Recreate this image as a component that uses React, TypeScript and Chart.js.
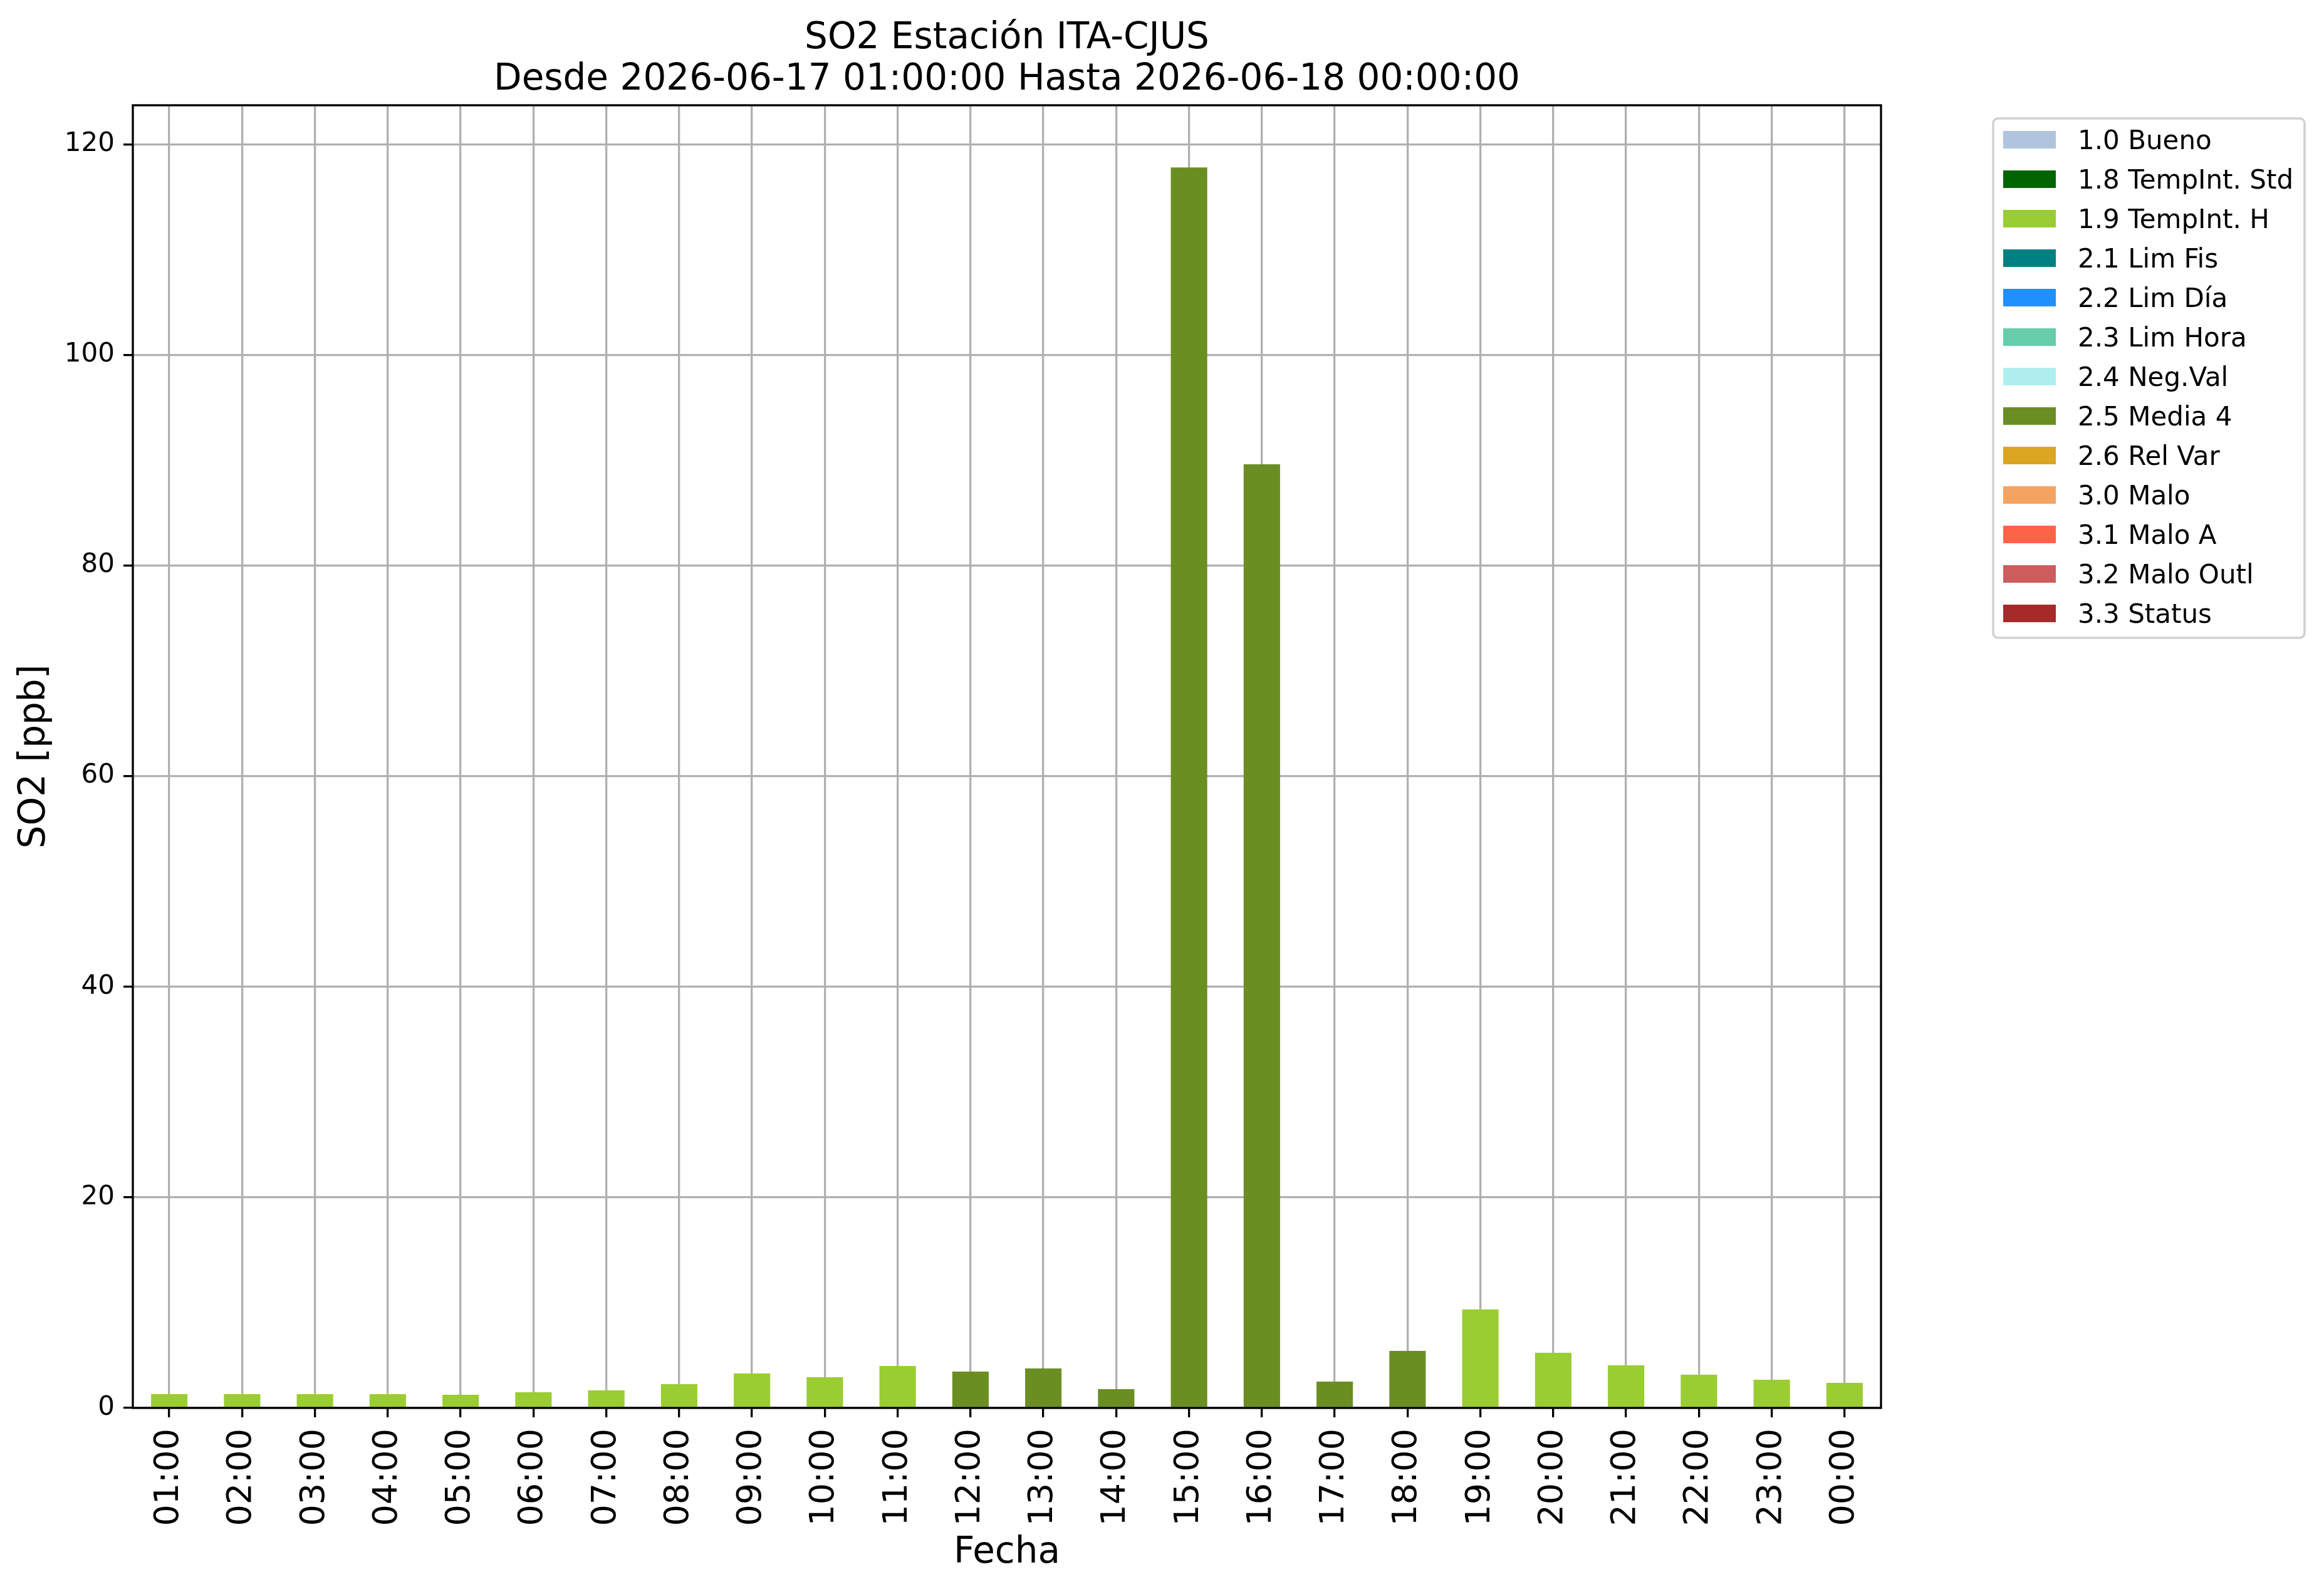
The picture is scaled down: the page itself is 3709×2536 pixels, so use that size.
import React, { useEffect, useRef } from 'react';
import { Chart, registerables } from 'chart.js';

Chart.register(...registerables);

// ---------- data ----------
const hours = [
  '01:00', '02:00', '03:00', '04:00', '05:00', '06:00', '07:00', '08:00',
  '09:00', '10:00', '11:00', '12:00', '13:00', '14:00', '15:00', '16:00',
  '17:00', '18:00', '19:00', '20:00', '21:00', '22:00', '23:00', '00:00',
];

const so2Values = [
  1.31, 1.31, 1.31, 1.31, 1.25, 1.49, 1.67, 2.26,
  3.27, 2.92, 3.99, 3.45, 3.75, 1.79, 117.8, 89.6,
  2.5, 5.42, 9.35, 5.24, 4.05, 3.15, 2.68, 2.38,
];

const hourFlags = [
  '1.9', '1.9', '1.9', '1.9', '1.9', '1.9', '1.9', '1.9',
  '1.9', '1.9', '1.9', '2.5', '2.5', '2.5', '2.5', '2.5',
  '2.5', '2.5', '1.9', '1.9', '1.9', '1.9', '1.9', '1.9',
];

const flagCodes = ['1.0', '1.8', '1.9', '2.1', '2.2', '2.3', '2.4', '2.5', '2.6', '3.0', '3.1', '3.2', '3.3'];
const flagNames = [
  'Bueno', 'TempInt. Std', 'TempInt. H', 'Lim Fis', 'Lim Día', 'Lim Hora',
  'Neg.Val', 'Media 4', 'Rel Var', 'Malo', 'Malo A', 'Malo Outl', 'Status',
];
const flagColors = [
  '#B0C4DE', '#006400', '#9ACD32', '#008080', '#1E90FF', '#66CDAA',
  '#AFEEEE', '#6B8E23', '#DAA520', '#F4A460', '#FF6347', '#CD5C5C', '#A52A2A',
];

const titleLines = ['SO2 Estación ITA-CJUS', 'Desde 2026-06-17 01:00:00 Hasta 2026-06-18 00:00:00'];
const yAxisLabel = 'SO2 [ppb]';
const xAxisLabel = 'Fecha';
const yMin = 0;
const yMax = 123.7;
const yStep = 20;

// ---------- layout / style ----------
const W = 3709;
const H = 2536;
const FONT = '"DejaVu Sans", "Liberation Sans", sans-serif';
const GRID = '#b0b0b0';
const LW = 3.3;

const decorPlugin = {
  id: 'decor',
  afterDraw(chart: any) {
    const { ctx, chartArea: a } = chart;
    ctx.save();
    // axes frame
    ctx.strokeStyle = '#000';
    ctx.lineWidth = LW;
    ctx.strokeRect(a.left, a.top, a.right - a.left, a.bottom - a.top);

    // title
    ctx.fillStyle = '#000';
    ctx.font = `58px ${FONT}`;
    ctx.textAlign = 'center';
    ctx.textBaseline = 'alphabetic';
    const cx = (a.left + a.right) / 2;
    titleLines.forEach((t, i) => ctx.fillText(t, cx, 77 + i * 66));

    // legend
    const ds = chart.data.datasets;
    const lx = a.right + 179;
    const ly = a.top + 21;
    const lw = 497;
    const rowH = 63;
    const lh = ds.length * rowH + 10;
    ctx.beginPath();
    (ctx as any).roundRect(lx, ly, lw, lh, 8);
    ctx.fillStyle = '#ffffff';
    ctx.fill();
    ctx.strokeStyle = '#d0d0d0';
    ctx.lineWidth = 3.5;
    ctx.stroke();
    ctx.font = `42px ${FONT}`;
    ctx.textAlign = 'left';
    ds.forEach((d: any, i: number) => {
      const cy = ly + 34 + i * rowH;
      ctx.fillStyle = d.backgroundColor;
      ctx.fillRect(lx + 16, cy - 14, 84, 28);
      ctx.fillStyle = '#000';
      ctx.fillText(d.label, lx + 135, cy + 15);
    });
    ctx.restore();
  },
};

export default function App() {
  const ref = useRef<HTMLCanvasElement | null>(null);

  useEffect(() => {
    if (!ref.current) return;
    const datasets = flagCodes.map((code, i) => ({
      label: `${code} ${flagNames[i]}`,
      backgroundColor: flagColors[i],
      borderWidth: 0,
      barPercentage: 0.5,
      categoryPercentage: 1.0,
      data: so2Values.map((v, j) => (hourFlags[j] === code ? v : null)),
    }));

    const gridCfg = {
      color: GRID,
      lineWidth: LW,
      tickColor: '#000',
      tickWidth: LW,
      tickLength: 15,
      drawTicks: true,
    };

    const chart = new Chart(ref.current, {
      type: 'bar',
      data: { labels: hours, datasets },
      options: {
        responsive: false,
        animation: false,
        devicePixelRatio: 1,
        layout: { padding: { top: 168, right: 707, bottom: 0, left: 0 } },
        plugins: {
          legend: { display: false },
          title: { display: false },
          tooltip: { enabled: false },
        },
        scales: {
          x: {
            stacked: true,
            offset: true,
            z: 1,
            grid: { ...gridCfg, offset: false },
            border: { display: false },
            ticks: {
              color: '#000',
              font: { family: FONT, size: 54 },
              minRotation: 90,
              maxRotation: 90,
              autoSkip: false,
              padding: 18,
            },
            title: {
              display: true,
              text: xAxisLabel,
              color: '#000',
              font: { family: FONT, size: 58 },
              padding: { top: 0, bottom: 22 },
            },
            afterFit: (s: any) => {
              s.height = 289;
            },
          },
          y: {
            stacked: true,
            min: yMin,
            max: yMax,
            z: 1,
            grid: gridCfg,
            border: { display: false },
            ticks: {
              stepSize: yStep,
              includeBounds: false,
              color: '#000',
              font: { family: FONT, size: 42 },
              padding: 14,
            },
            title: {
              display: true,
              text: yAxisLabel,
              color: '#000',
              font: { family: FONT, size: 58 },
              padding: { top: 21, bottom: 0 },
            },
            afterFit: (s: any) => {
              s.width = 212;
            },
          },
        },
      } as any,
      plugins: [decorPlugin],
    });
    return () => chart.destroy();
  }, []);

  return (
    <div style={{ position: 'fixed', left: 0, top: 0, width: W, height: H, background: '#fff' }}>
      <canvas ref={ref} width={W} height={H} style={{ display: 'block', width: W, height: H }} />
    </div>
  );
}
